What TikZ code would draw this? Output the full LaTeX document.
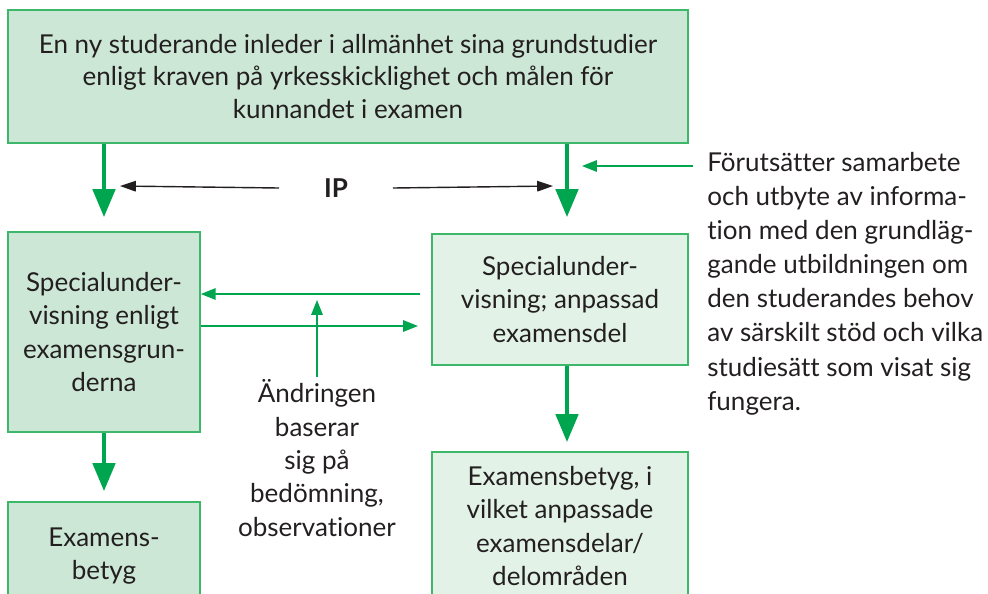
\documentclass[tikz,border=0pt]{standalone}
\usepackage{fontspec}
\setmainfont{Lato}[Ligatures=NoCommon]
\usetikzlibrary{arrows.meta,positioning}

\definecolor{boxfill}{HTML}{CCE7D5}
\definecolor{boxlight}{HTML}{E3F2E7}
\definecolor{boxline}{HTML}{3DB86A}
\definecolor{arrowgreen}{HTML}{00A54F}
\definecolor{ink}{HTML}{231F20}

\tikzset{
  box/.style={draw=boxline, line width=0.9pt, fill=boxfill, align=center, text=ink, inner sep=0pt,
    font=\fontsize{14.8pt}{19pt}\selectfont},
  lightbox/.style={box, fill=boxlight},
  txt/.style={align=center, text=ink, inner sep=1pt, font=\fontsize{14.8pt}{19pt}\selectfont},
  bigarrow/.style={draw=arrowgreen, line width=2.8pt, -{Triangle[width=12.5pt,length=16pt]}},
  thinarrow/.style={draw=arrowgreen, line width=1pt, -{Triangle[width=6.5pt,length=8.5pt]}},
  iparrow/.style={draw=ink, line width=0.8pt, -{Triangle[width=6pt,length=9pt]}},
}

\begin{document}
\begin{tikzpicture}[x=0.02cm,y=-0.02cm]
    \useasboundingbox (0,0) rectangle (988,593);

    \node[box,minimum width=13.6cm,minimum height=2.66cm,font=\fontsize{14.8pt}{18.3pt}\selectfont] (top) at (348,76.5)
      {En ny studerande inleder i allmänhet sina grundstudier\\enligt kraven på yrkesskicklighet och målen för\\kunnandet i examen};
    \node[box,minimum width=3.84cm,minimum height=4cm] (lbox) at (104,332)
      {Specialunder-\\visning enligt\\examensgrun-\\derna};
    \node[lightbox,minimum width=5.12cm,minimum height=2.62cm] (rbox) at (560,299.5)
      {Specialunder-\\visning; anpassad\\examensdel};
    \node[box,minimum width=3.84cm,minimum height=2.16cm] (lbet) at (104,556)
      {Examens-\\betyg};
    \node[lightbox,minimum width=5.12cm,minimum height=2.96cm] (rbet) at (560,526)
      {Examensbetyg, i\\vilket anpassade\\examensdelar/\\delområden};

    \node[txt,font=\fontsize{14.8pt}{19pt}\selectfont\bfseries,minimum width=2.26cm,inner sep=0pt] (ip) at (336,188) {IP};
    \node[txt] (chg) at (317,458) {Ändringen\\baserar\\sig på\\bedömning,\\observationer};
    \node[txt,anchor=north west,align=left,inner sep=0pt,font=\fontsize{14.8pt}{19.4pt}\selectfont] (note) at (707,152)
      {Förutsätter samarbete\\och utbyte av informa-\\tion med den grundläg-\\gande utbildningen om\\den studerandes behov\\av särskilt stöd och vilka\\studiesätt som visat sig\\fungera.};

    \coordinate (rcol) at (567,0);
    \coordinate (ipL) at (120,186);
    \coordinate (ipR) at (553,186);
    \coordinate (noteA) at (693,166);
    \coordinate (noteB) at (582,166);
    \coordinate (upA) at (420,294);
    \coordinate (loA) at (418,326);
    \coordinate (chgTip) at (317,300);

    \path (top.south -| lbox.north) edge[bigarrow,shorten >=0.28cm] (lbox.north);
    \path (top.south -| rcol) edge[bigarrow,shorten >=0.32cm] (rbox.north -| rcol);
    \path (lbox.south) edge[bigarrow,shorten >=0.2cm] (lbet.north);
    \path (rbox.south -| rcol) edge[bigarrow,shorten >=0.18cm] (rbet.north -| rcol);

    \path (ip.west) edge[iparrow] (ipL);
    \path (ip.east) edge[iparrow] (ipR);

    \path (noteA) edge[thinarrow] (noteB);
    \path (upA) edge[thinarrow] (lbox.east |- upA);
    \path (lbox.east |- loA) edge[thinarrow] (loA);
    \path (chg.north) edge[thinarrow] (chgTip);
\end{tikzpicture}
\end{document}
